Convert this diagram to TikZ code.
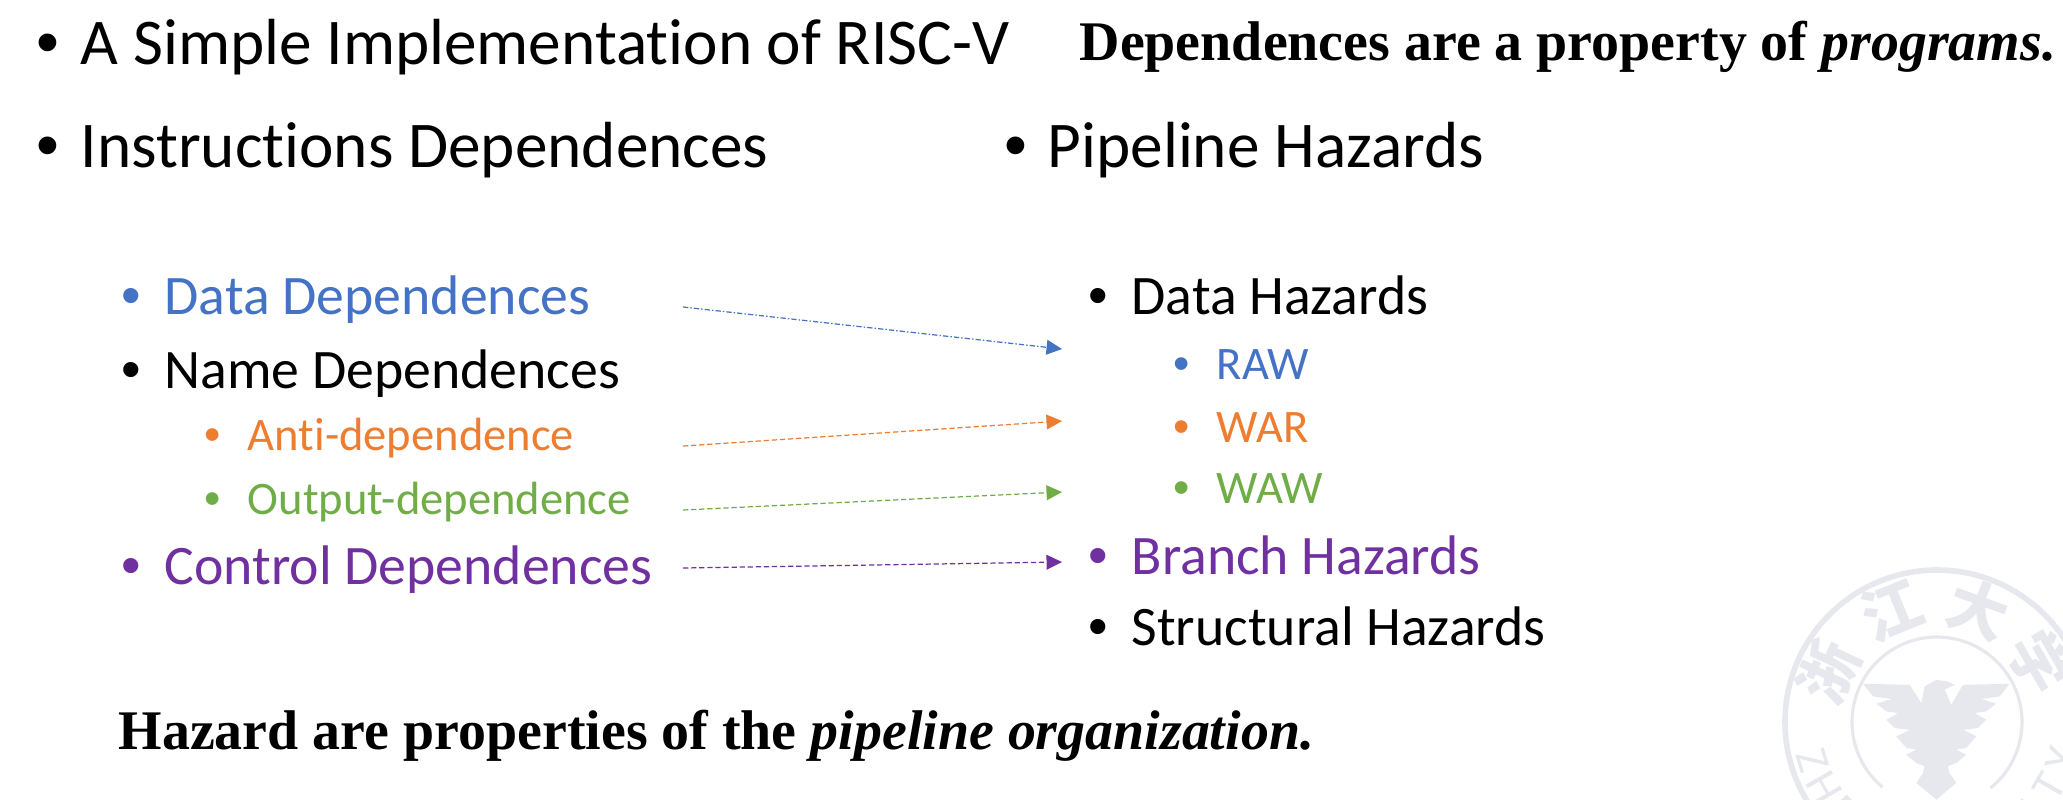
\documentclass[tikz,border=0pt]{standalone}
\usepackage{fontspec}
\usepackage{xcolor}
\usepackage{tikz}
\usetikzlibrary{arrows.meta}
\setmainfont{Carlito}[Ligatures=NoCommon]
\newfontfamily\timesfont{Liberation Serif}
\newfontfamily\bulletfont{Liberation Sans}
\newfontfamily\cjkfont{Noto Sans CJK SC}
\definecolor{depblue}{HTML}{4472C4}
\definecolor{deporange}{HTML}{ED7D31}
\definecolor{depgreen}{HTML}{70AD47}
\definecolor{deppurple}{HTML}{7030A0}
\definecolor{sealgray}{HTML}{E6E8EE}
\tikzset{
    basetext/.style={anchor=base west, inner sep=0pt},
    headtext/.style={basetext, font=\fontsize{18.55}{22}\selectfont},
    itemtext/.style={basetext, font=\fontsize{15.85}{18}\selectfont},
    subtext/.style={basetext, font=\fontsize{13.25}{15}\selectfont},
    boldtext/.style={basetext, font=\timesfont\fontsize{15.9}{18}\selectfont\bfseries},
    linkarrow/.style={-{Triangle[length=4.4pt, width=4.2pt]}, line width=0.35pt, dash pattern=on 1.5pt off 0.8pt},
}

\begin{document}
\begin{tikzpicture}[x=0.01cm, y=-0.01cm]
    \useasboundingbox (0,0) rectangle (2063,799);
    % seal in the corner
    \begin{scope}
        \clip (0,0) rectangle (2063,799);
        \begin{scope}[shift={(1937,722)}, y=0.01cm]
            \draw[sealgray, line width=1.6pt] (0,0) circle (152);
            \draw[sealgray, line width=0.9pt] (-51:85) arc[start angle=-51, end angle=230, radius=85];
            \foreach \a/\ch in {155/浙, 112/江, 70/大, 30/学}
                \node[inner sep=0pt, text=sealgray, font=\cjkfont\fontsize{17}{17}\selectfont\bfseries, rotate=\a-90] (seal\a) at (\a:120) {\ch};
            \foreach \a/\ch in {197/Z, 210/H, 223/E, 317/I, 330/T, 343/Y}
                \node[inner sep=0pt, text=sealgray, font=\fontsize{13}{13}\selectfont, rotate=\a+90] (ring\a) at (\a:130) {\ch};
        \end{scope}
        \begin{scope}[shift={(1700,540)}, x=0.003333cm, y=-0.003333cm]
            \fill[sealgray] (710,420) -- (745,425) -- (765,435) -- (735,450) -- (755,495) -- (790,435) -- (930,432)
                -- (900,470) -- (845,478) -- (890,492) -- (860,515) -- (825,520) -- (860,540) -- (835,565) -- (790,570)
                -- (830,590) -- (800,625) -- (770,630) -- (800,645) -- (770,670) -- (745,680) -- (750,700) -- (770,730) -- (710,780)
                -- (650,730) -- (670,700) -- (675,680) -- (650,670) -- (620,645) -- (650,630) -- (620,625) -- (590,590)
                -- (630,570) -- (585,565) -- (560,540) -- (595,520) -- (560,515) -- (530,492) -- (575,478) -- (520,470)
                -- (490,432) -- (630,435) -- (665,490) -- (675,440) -- cycle;
        \end{scope}
    \end{scope}

    \node[headtext] (impl) at (80,64) {A Simple Implementation of RISC-V};
    \node[headtext, anchor=base] (implb) at (48,64) {\bulletfont •};
    \node[headtext] (instr) at (80,167) {Instructions Dependences};
    \node[headtext, anchor=base] (instrb) at (48,167) {\bulletfont •};
    \node[headtext] (pipe) at (1047,167) {Pipeline Hazards};
    \node[headtext, anchor=base] (pipeb) at (1016,167) {\bulletfont •};

    \foreach \id/\x/\y/\c/\txt in {data/164/314/depblue/Data Dependences, name/164/388/black/Name Dependences,
        ctrl/164/584/deppurple/Control Dependences, dhaz/1131/314/black/Data Hazards,
        bhaz/1131/574/deppurple/Branch Hazards, shaz/1131/645/black/Structural Hazards} {
        \node[itemtext, text=\c] (\id) at (\x,\y) {\txt};
        \node[itemtext, anchor=base, text=\c] (\id b) at (\x-33,\y) {\bulletfont •};
    }
    \foreach \id/\x/\y/\c/\txt in {anti/247/450/deporange/Anti-dependence, output/247/514/depgreen/Output-dependence,
        raw/1216/379/depblue/RAW, war/1216/442/deporange/WAR, waw/1216/503/depgreen/WAW} {
        \node[subtext, text=\c] (\id) at (\x,\y) {\txt};
        \node[subtext, anchor=base, text=\c] (\id b) at (\x-34,\y) {\bulletfont •};
    }

    \node[boldtext] (depnote) at (1079,60) {Dependences are a property of \textit{programs.}};
    \node[boldtext] (haznote) at (118,749) {Hazard are properties of the \textit{pipeline organization.}};

    \coordinate (dataout) at (683,307);
    \coordinate (antiout) at (683,446);
    \coordinate (outputout) at (683,510);
    \coordinate (ctrlout) at (683,568);
    \coordinate (rawin) at (1062,349);
    \coordinate (warin) at (1062,421);
    \coordinate (wawin) at (1062,492);
    \coordinate (bhazin) at (1062,562);
    \draw[linkarrow, depblue, dash pattern=on 1.5pt off 0.6pt on 0.4pt off 0.6pt] (dataout) -- (rawin);
    \draw[linkarrow, deporange] (antiout) -- (warin);
    \draw[linkarrow, depgreen] (outputout) -- (wawin);
    \draw[linkarrow, deppurple] (ctrlout) -- (bhazin);
\end{tikzpicture}
\end{document}
